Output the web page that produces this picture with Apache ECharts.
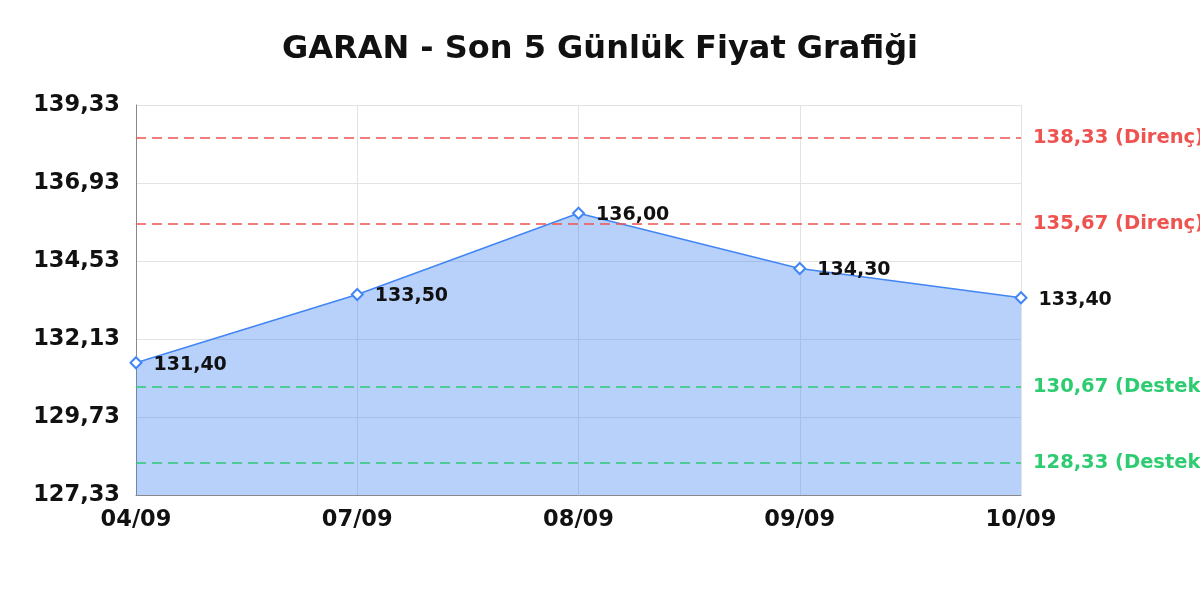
<!DOCTYPE html>
<html><head><meta charset="utf-8">
<script src="https://cdn.jsdelivr.net/npm/echarts@6/dist/echarts.min.js"></script>
<style>html,body{margin:0;padding:0;background:#fff}#c{width:1200px;height:600px}</style>
</head><body><div id="c"></div>
<script>
const title = 'GARAN - Son 5 Günlük Fiyat Grafiği';
const categories = ['04/09', '07/09', '08/09', '09/09', '10/09'];
const prices = [131.40, 133.50, 136.00, 134.30, 133.40];
const yTicks = [127.33, 129.73, 132.13, 134.53, 136.93, 139.33];
const resistance = [138.33, 135.67];
const support = [130.67, 128.33];
const fmt = v => v.toFixed(2).replace('.', ',');
const F = 'DejaVu Sans';
const chart = echarts.init(document.getElementById('c'));
const markData = [];
resistance.forEach(v => markData.push({yAxis: v, lineStyle: {color: '#ef5350'}, label: {color: '#ef5350', formatter: fmt(v) + ' (Direnç)'}}));
support.forEach(v => markData.push({yAxis: v, lineStyle: {color: '#2ecc71'}, label: {color: '#2ecc71', formatter: fmt(v) + ' (Destek)'}}));
chart.setOption({
  animation: false,
  title: {text: title, left: 'center', top: 29, textStyle: {fontFamily: F, fontSize: 32, fontWeight: 'bold', color: '#111'}},
  grid: {left: 136, right: 179, top: 105, bottom: 105},
  xAxis: {
    type: 'category', data: categories, boundaryGap: false,
    axisLine: {lineStyle: {color: '#888'}},
    axisTick: {show: false},
    axisLabel: {fontFamily: F, fontSize: 22.5, fontWeight: 'bold', color: '#111', margin: 14},
    splitLine: {show: true, lineStyle: {color: '#e3e3e3'}}
  },
  yAxis: {
    type: 'value', min: yTicks[0], max: yTicks[yTicks.length - 1],
    axisLine: {show: true, lineStyle: {color: '#888'}},
    axisTick: {show: false, customValues: yTicks},
    axisLabel: {customValues: yTicks, fontFamily: F, fontSize: 22.5, fontWeight: 'bold', color: '#111', margin: 16, formatter: v => fmt(v)},
    splitLine: {show: true, lineStyle: {color: '#e3e3e3'}}
  },
  series: [{
    type: 'line', data: prices,
    symbol: 'emptyDiamond', symbolSize: 11,
    lineStyle: {color: '#4285f4', width: 1.5},
    itemStyle: {color: '#4285f4', borderWidth: 2},
    areaStyle: {color: 'rgba(66,133,244,0.38)', opacity: 1},
    label: {show: true, position: 'right', distance: 11, offset: [0, 2], fontFamily: F, fontSize: 19, fontWeight: 'bold', color: '#111', formatter: p => fmt(p.value)},
    markLine: {
      symbol: 'none', silent: true,
      lineStyle: {type: [10, 6], width: 1.5},
      label: {position: 'end', distance: 12, fontFamily: F, fontSize: 19.5, fontWeight: 'bold'},
      data: markData
    }
  }]
});
</script></body></html>
